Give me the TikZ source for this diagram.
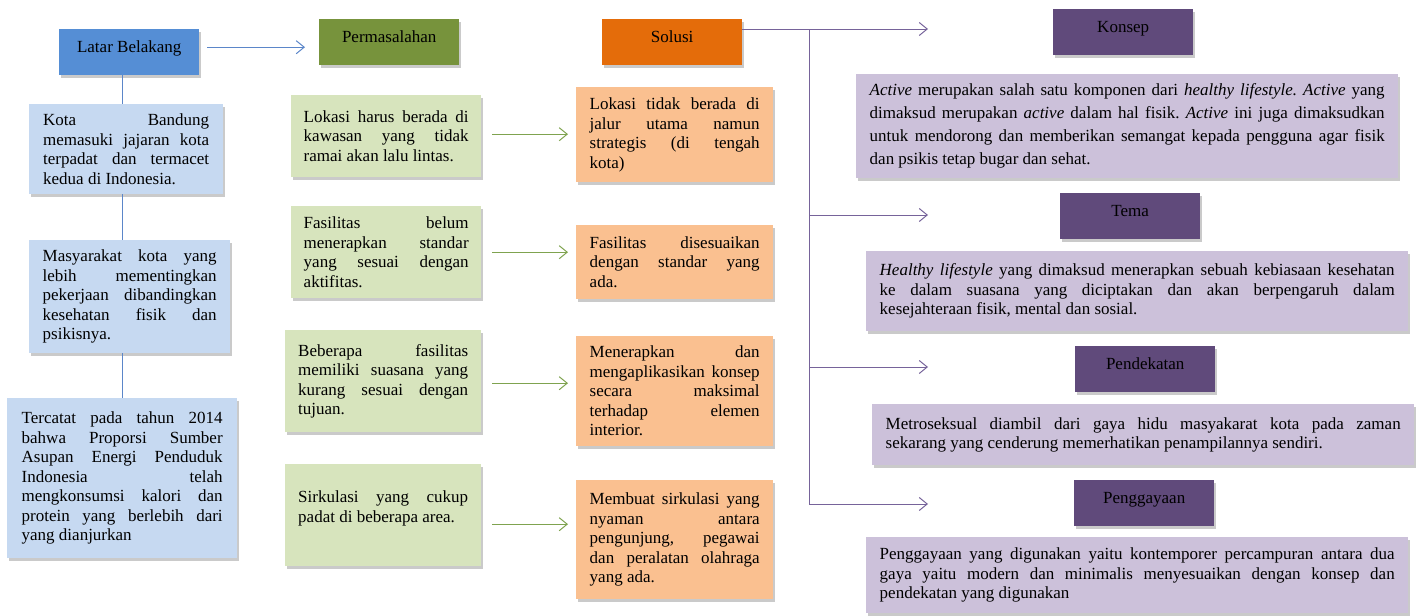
\documentclass[tikz,border=0pt]{standalone}
\usepackage{fontspec}
\setmainfont{Liberation Serif}
\usetikzlibrary{shapes,arrows.meta,calc,positioning,shadows,backgrounds}
\frenchspacing

\definecolor{hdblue}{HTML}{558ED5}
\definecolor{hdgreen}{HTML}{77933C}
\definecolor{hdorange}{HTML}{E46C0A}
\definecolor{hdpurple}{HTML}{604A7B}
\definecolor{ltblue}{HTML}{C6D9F1}
\definecolor{ltgreen}{HTML}{D7E4BD}
\definecolor{ltorange}{HTML}{FAC090}
\definecolor{ltpurple}{HTML}{CCC1DA}
\definecolor{lnblue}{HTML}{5B86C9}
\definecolor{lngreen}{HTML}{7FA34F}
\definecolor{lnpurple}{HTML}{76639A}

\tikzset{
  shade box/.style={drop shadow={shadow xshift=1.5pt, shadow yshift=-2.5pt, opacity=.35, fill=black!60}},
  head/.style={anchor=north west, shade box, minimum width=140pt, inner xsep=0pt, inner ysep=4pt,
    text height=19.5pt, text depth=18.5pt, font=\fontsize{17}{19.5}\selectfont},
  box/.style={anchor=north west, shade box, inner sep=0pt, align=justify,
    font={\fontsize{17}{19.5}\selectfont\tolerance=10000\hbadness=10000\hyphenpenalty=10000}},
  bluebox/.style={box, fill=ltblue},
  greenbox/.style={box, fill=ltgreen},
  orangebox/.style={box, fill=ltorange, text width=170pt, minimum width=197pt},
  purplebox/.style={box, fill=ltpurple, text width=515pt, minimum width=542pt},
  lineblue/.style={draw=lnblue, line width=1pt},
  arrowblue/.style={lineblue, -{Straight Barb[length=8pt,width=13pt]}},
  arrowgreen/.style={draw=lngreen, line width=1pt, -{Straight Barb[length=8pt,width=13pt]}},
  linepurple/.style={draw=lnpurple, line width=1pt},
  arrowpurple/.style={linepurple, -{Straight Barb[length=8pt,width=13pt]}}
}

\begin{document}
\begin{tikzpicture}[x=1pt,y=-1pt]
  \useasboundingbox (0,0) rectangle (1417,616);

  \node [head, fill=hdblue] (latar) at (59,29) {Latar Belakang};
  \node [head, fill=hdgreen] (perm) at (319,19) {Permasalahan};
  \node [head, fill=hdorange] (solusi) at (602,19) {Solusi};

  \node [bluebox, text width=166pt, minimum width=194pt, minimum height=90pt] (kota) at (29,104)
    {Kota Bandung\linebreak memasuki jajaran kota\linebreak terpadat dan termacet\linebreak kedua di Indonesia.};
  \node [bluebox, text width=174pt, minimum width=201pt, minimum height=113pt] (masy) at (29,240)
    {Masyarakat kota yang\linebreak lebih mementingkan\linebreak pekerjaan dibandingkan\linebreak kesehatan fisik dan\linebreak psikisnya.};
  \node [bluebox, text width=201pt, minimum width=230pt, minimum height=160pt] (catat) at (7,398)
    {Tercatat pada tahun 2014\linebreak bahwa Proporsi Sumber\linebreak Asupan Energi Penduduk\linebreak Indonesia telah\linebreak mengkonsumsi kalori dan\linebreak protein yang berlebih dari\linebreak yang dianjurkan};

  \node [greenbox, text width=165pt, minimum width=190pt, minimum height=82pt] (p1) at (291,95)
    {Lokasi harus berada di\linebreak kawasan yang tidak\linebreak ramai akan lalu lintas.};
  \node [greenbox, text width=165pt, minimum width=190pt, minimum height=92pt] (p2) at (291,206)
    {Fasilitas belum\linebreak menerapkan standar\linebreak yang sesuai dengan\linebreak aktifitas.};
  \node [greenbox, text width=170pt, minimum width=196pt, minimum height=102pt] (p3) at (285,330)
    {Beberapa fasilitas\linebreak memiliki suasana yang\linebreak kurang sesuai dengan\linebreak tujuan.};
  \node [greenbox, text width=170pt, minimum width=196pt, minimum height=102pt] (p4) at (285,464)
    {Sirkulasi yang cukup\linebreak padat di beberapa area.\vspace{14pt}};

  \node [orangebox, minimum height=95pt] (s1) at (576,87)
    {Lokasi tidak berada di\linebreak jalur utama namun\linebreak strategis (di tengah\linebreak kota)};
  \node [orangebox, minimum height=74pt] (s2) at (576,225)
    {Fasilitas disesuaikan\linebreak dengan standar yang\linebreak ada.};
  \node [orangebox, minimum height=110pt] (s3) at (576,336)
    {Menerapkan dan\linebreak mengaplikasikan konsep\linebreak secara maksimal\linebreak terhadap elemen\linebreak interior.};
  \node [orangebox, minimum height=119pt] (s4) at (576,480)
    {Membuat sirkulasi yang\linebreak nyaman antara\linebreak pengunjung, pegawai\linebreak dan peralatan olahraga\linebreak yang ada.};

  \node [head, fill=hdpurple] (konsep) at (1053,9) {Konsep};
  \node [purplebox, minimum height=104pt, font=\fontsize{17}{23}\selectfont] (konsepT) at (856,74)
    {\textit{Active} merupakan salah satu komponen dari \textit{healthy lifestyle.} \textit{Active} yang\linebreak dimaksud merupakan \textit{active} dalam hal fisik. \textit{Active} ini juga dimaksudkan\linebreak untuk mendorong dan memberikan semangat kepada pengguna agar fisik\linebreak dan psikis tetap bugar dan sehat.};
  \node [head, fill=hdpurple] (tema) at (1060,193) {Tema};
  \node [purplebox, minimum height=80pt] (temaT) at (866,251)
    {\textit{Healthy lifestyle} yang dimaksud menerapkan sebuah kebiasaan kesehatan\linebreak ke dalam suasana yang diciptakan dan akan berpengaruh dalam\linebreak kesejahteraan fisik, mental dan sosial.};
  \node [head, fill=hdpurple] (dekat) at (1075,346) {Pendekatan};
  \node [purplebox, minimum height=61pt] (dekatT) at (872,404)
    {Metroseksual diambil dari gaya hidu masyakarat kota pada zaman\linebreak sekarang yang cenderung memerhatikan penampilannya sendiri.};
  \node [head, fill=hdpurple] (gaya) at (1074,480) {Penggayaan};
  \node [purplebox, minimum height=76pt] (gayaT) at (866,537)
    {Penggayaan yang digunakan yaitu kontemporer percampuran antara dua\linebreak gaya yaitu modern dan minimalis menyesuaikan dengan konsep dan\linebreak pendekatan yang digunakan};

  \coordinate (spine) at (122,0);
  \coordinate (trunk) at (809,29);
  \coordinate (tipA) at (928,29);
  \coordinate (tipB) at (928,215);
  \coordinate (tipC) at (928,367);
  \coordinate (tipD) at (928,504);

  \draw [lineblue] (latar.south -| spine) -- (kota.north -| spine) ;
  \draw [lineblue] (kota.south -| spine) -- (masy.north -| spine) ;
  \draw [lineblue] (masy.south -| spine) -- (catat.north -| spine) ;
  \draw [arrowblue, shorten <=8pt, shorten >=14pt] ([yshift=5pt]latar.east) -- ([yshift=5pt]latar.east -| perm.west) ;

  \draw [arrowgreen, shorten <=11pt, shorten >=8pt] ([yshift=2pt]p1.east) -- ([yshift=2pt]p1.east -| s1.west) ;
  \draw [arrowgreen, shorten <=11pt, shorten >=8pt] (p2.east) -- (p2.east -| s2.west) ;
  \draw [arrowgreen, shorten <=11pt, shorten >=8pt] ([yshift=-2pt]p3.east) -- ([yshift=-2pt]p3.east -| s3.west) ;
  \draw [arrowgreen, shorten <=11pt, shorten >=8pt] ([yshift=-9pt]p4.east) -- ([yshift=-9pt]p4.east -| s4.west) ;

  \draw [arrowpurple] ([yshift=-10pt]solusi.north east) -- (tipA) ;
  \draw [linepurple] (trunk) -- (trunk |- tipD) ;
  \draw [arrowpurple] (trunk |- tipB) -- (tipB) ;
  \draw [arrowpurple] (trunk |- tipC) -- (tipC) ;
  \draw [arrowpurple] (trunk |- tipD) -- (tipD) ;
\end{tikzpicture}
\end{document}
